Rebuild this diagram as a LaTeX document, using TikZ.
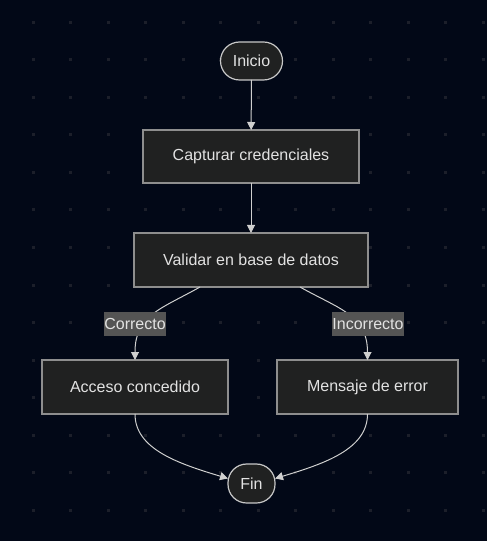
\documentclass[tikz,border=0pt]{standalone}
\usepackage{fontspec}
\setmainfont{Liberation Sans}
\usetikzlibrary{arrows.meta,calc}
\definecolor{bgc}{HTML}{020817}
\definecolor{dotc}{HTML}{1C1F2A}
\definecolor{nodefill}{HTML}{202121}
\definecolor{boxline}{HTML}{8E8E8E}
\definecolor{termline}{HTML}{C8C8C8}
\definecolor{txt}{HTML}{E2E2E2}
\definecolor{edgec}{HTML}{CFCFCF}
\definecolor{lblfill}{HTML}{545454}
\tikzset{
  boxnode/.style={draw=boxline, line width=0.9pt, fill=nodefill, text=txt, font=\fontsize{12}{14}\selectfont, inner sep=0pt, outer sep=0pt},
  termnode/.style={draw=termline, line width=0.9pt, fill=nodefill, text=txt, font=\fontsize{12}{14}\selectfont, inner sep=0pt, outer sep=0pt},
  edge/.style={draw=edgec, line width=0.75pt, -{Triangle[length=6pt,width=6pt]}},
  lbl/.style={fill=lblfill, text=txt, font=\fontsize{12}{14}\selectfont, inner xsep=0.5pt, inner ysep=0pt, minimum height=18pt}
}
\begin{document}
\begin{tikzpicture}[x=0.75pt,y=-0.75pt]
\fill[bgc] (0,0) rectangle (487,541);
\useasboundingbox (0,0) rectangle (487,541);
\foreach \i in {0,...,12}{
  \foreach \j in {0,...,14}{
    \fill[dotc] ({33+37.5*\i-1.5},{22.5+37.5*\j-1.5}) rectangle ++(3,3);
  }
}
\node[termnode, minimum width=46.5pt, minimum height=28.5pt, rounded corners=14.25pt] (ini) at (251.5,61) {Inicio};
\node[boxnode, minimum width=162pt, minimum height=39.75pt] (cap) at (251,156.5) {Capturar credenciales};
\node[boxnode, minimum width=175.5pt, minimum height=40.5pt] (val) at (251,260) {Validar en base de datos};
\node[boxnode, minimum width=139.5pt, minimum height=40.5pt] (acc) at (135,387) {Acceso concedido};
\node[boxnode, minimum width=135.75pt, minimum height=40.5pt] (err) at (367.5,387) {Mensaje de error};
\node[termnode, minimum width=35.25pt, minimum height=29.25pt, rounded corners=14pt] (fin) at (251.5,483.5) {Fin};

\draw[edge] (ini) -- (cap);
\draw[edge] (cap) -- (val);
\draw[edge] ($(val.south)+(-51,0)$) .. controls ($(val.south)+(-90,22)$) and ($(acc.north)+(0,-45)$) .. (acc.north);
\draw[edge] ($(val.south)+(49,0)$) .. controls ($(val.south)+(88,22)$) and ($(err.north)+(0,-45)$) .. (err.north);
\draw[edge] (acc.south) .. controls ($(acc.south)+(0,35)$) and ($(fin.west)+(-50,-20)$) .. ($(fin.west)+(0,-5)$);
\draw[edge] (err.south) .. controls ($(err.south)+(0,35)$) and ($(fin.east)+(50,-20)$) .. ($(fin.east)+(0,-5)$);

\node[lbl] (lc) at (135,324) {Correcto};
\node[lbl] (li) at (368,324) {Incorrecto};
\end{tikzpicture}
\end{document}
